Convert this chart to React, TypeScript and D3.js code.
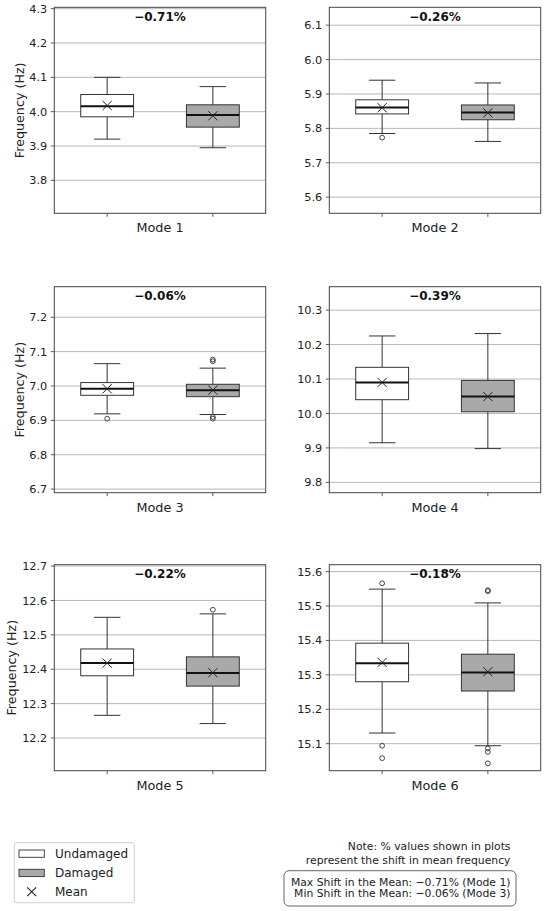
import React from "react";
import * as d3 from "d3";

const modes = ["Mode 1", "Mode 2", "Mode 3", "Mode 4", "Mode 5", "Mode 6"];
const shiftLabels = ["−0.71%", "−0.26%", "−0.06%", "−0.39%", "−0.22%", "−0.18%"];
const yMin = [3.704, 5.553, 6.6895, 9.77, 12.105, 15.0215];
const yMax = [4.304, 6.152, 7.289, 10.368, 12.704, 15.62];

const undLow = [3.92, 5.785, 6.919, 9.915, 12.266, 15.131];
const undQ1 = [3.985, 5.842, 6.973, 10.04, 12.381, 15.28];
const undMed = [4.016, 5.861, 6.992, 10.09, 12.418, 15.334];
const undQ3 = [4.05, 5.883, 7.01, 10.134, 12.459, 15.392];
const undHigh = [4.1, 5.94, 7.065, 10.225, 12.551, 15.549];
const undMean = [4.018, 5.86, 6.992, 10.09, 12.418, 15.336];
const undOutliers = [[], [5.773], [6.905], [], [], [15.566, 15.094, 15.058]];

const dmgLow = [3.895, 5.762, 6.917, 9.898, 12.242, 15.094];
const dmgQ1 = [3.955, 5.825, 6.969, 10.005, 12.351, 15.253];
const dmgMed = [3.99, 5.846, 6.988, 10.049, 12.389, 15.307];
const dmgQ3 = [4.02, 5.868, 7.005, 10.096, 12.436, 15.36];
const dmgHigh = [4.073, 5.932, 7.052, 10.232, 12.561, 15.509];
const dmgMean = [3.988, 5.845, 6.988, 10.049, 12.39, 15.309];
const dmgOutliers = [[], [], [7.077, 7.072, 6.91, 6.905], [], [12.573], [15.546, 15.543, 15.086, 15.076, 15.043]];

const groups = ["Undamaged", "Damaged"];
const groupFill = ["#ffffff", "#a9a9a9"];
const noteLines = ["Note: % values shown in plots", "represent the shift in mean frequency"];
const summaryLines = ["Max Shift in the Mean: −0.71% (Mode 1)", "Min Shift in the Mean: −0.06% (Mode 3)"];

const FONT = "DejaVu Sans, sans-serif";
const colLeft = [54.3, 329.3];
const rowTop = [7.3, 286.7, 564.7];
const plotW = 211.4;
const plotH = 206;
const EDGE = "#333";

function Panel({ i }: { i: number }) {
  const left = colLeft[i % 2];
  const top = rowTop[Math.floor(i / 2)];
  const y = d3.scaleLinear().domain([yMin[i], yMax[i]]).range([plotH, 0]);
  const x = d3.scaleLinear().domain([0.5, 2.5]).range([0, plotW]);
  const ticks = d3.range(Math.ceil(yMin[i] * 10 - 1e-6), Math.floor(yMax[i] * 10 + 1e-6) + 1).map((v) => v / 10);
  const boxW = x(1.5) - x(1);
  const stats = [
    { low: undLow[i], q1: undQ1[i], med: undMed[i], q3: undQ3[i], high: undHigh[i], mean: undMean[i], out: undOutliers[i] },
    { low: dmgLow[i], q1: dmgQ1[i], med: dmgMed[i], q3: dmgQ3[i], high: dmgHigh[i], mean: dmgMean[i], out: dmgOutliers[i] },
  ];
  return (
    <g transform={`translate(${left},${top})`}>
      {ticks.map((t) => (
        <g key={t}>
          <line x1={0} x2={plotW} y1={y(t)} y2={y(t)} stroke="#b0b0b0" strokeWidth={0.9} />
          <line x1={-3.5} x2={0} y1={y(t)} y2={y(t)} stroke="#333" strokeWidth={0.8} />
          <text x={-7} y={y(t)} dy="0.36em" textAnchor="end" fontSize={11.3} fill="#222" fontFamily={FONT}>
            {t.toFixed(1)}
          </text>
        </g>
      ))}
      {stats.map((s, k) => {
        const cx = x(k + 1);
        const capW = boxW * 0.5;
        const m = 4.6;
        return (
          <g key={k}>
            <line x1={cx} x2={cx} y1={y(s.q3)} y2={y(s.high)} stroke={EDGE} strokeWidth={1} />
            <line x1={cx} x2={cx} y1={y(s.q1)} y2={y(s.low)} stroke={EDGE} strokeWidth={1} />
            <line x1={cx - capW / 2} x2={cx + capW / 2} y1={y(s.high)} y2={y(s.high)} stroke={EDGE} strokeWidth={1} />
            <line x1={cx - capW / 2} x2={cx + capW / 2} y1={y(s.low)} y2={y(s.low)} stroke={EDGE} strokeWidth={1} />
            <rect x={cx - boxW / 2} y={y(s.q3)} width={boxW} height={y(s.q1) - y(s.q3)} fill={groupFill[k]} stroke={EDGE} strokeWidth={1} />
            <line x1={cx - boxW / 2} x2={cx + boxW / 2} y1={y(s.med)} y2={y(s.med)} stroke="#111" strokeWidth={2} />
            {s.out.map((o, j) => (
              <circle key={j} cx={cx} cy={y(o)} r={2.4} fill="none" stroke={EDGE} strokeWidth={0.9} />
            ))}
            <path d={`M${cx - m},${y(s.mean) - m}L${cx + m},${y(s.mean) + m}M${cx - m},${y(s.mean) + m}L${cx + m},${y(s.mean) - m}`} stroke="#222" strokeWidth={1} fill="none" />
            <line x1={cx} x2={cx} y1={plotH} y2={plotH + 3.5} stroke="#333" strokeWidth={0.8} />
          </g>
        );
      })}
      <rect x={0} y={0} width={plotW} height={plotH} fill="none" stroke="#444" strokeWidth={1} />
      <text x={plotW / 2} y={13.4} textAnchor="middle" fontWeight="bold" fontSize={12} fill="#111" fontFamily={FONT}>
        {shiftLabels[i]}
      </text>
      <text x={plotW / 2} y={plotH + 14.4} dy="0.36em" textAnchor="middle" fontSize={12.8} fill="#222" fontFamily={FONT}>
        {modes[i]}
      </text>
      {i % 2 === 0 && (
        <text
          transform={`translate(${i === 4 ? -42.6 : -35.3},${plotH / 2}) rotate(-90)`}
          textAnchor="middle"
          dy="0.36em"
          fontSize={12.7}
          fill="#222"
          fontFamily={FONT}
        >
          Frequency (Hz)
        </text>
      )}
    </g>
  );
}

export default function App() {
  return (
    <svg width={550} height={911} style={{ position: "absolute", left: 0, top: 0, background: "#fff" }}>
      <rect width={550} height={911} fill="#fff" />
      {modes.map((_, i) => (
        <Panel key={i} i={i} />
      ))}
      {/* legend */}
      <rect x={14.3} y={842.7} width={120} height={60} rx={2} fill="#fff" stroke="#d0d0d0" strokeWidth={1} />
      {groups.map((g, k) => (
        <g key={g}>
          <rect x={19} y={850 + k * 19.3} width={25.3} height={7.3} fill={groupFill[k]} stroke={EDGE} strokeWidth={0.9} />
          <text x={55} y={853.6 + k * 19.3} dy="0.36em" fontSize={12} fill="#222" fontFamily={FONT}>
            {g}
          </text>
        </g>
      ))}
      <path d="M27.3,887.3L36.1,896.1M27.3,896.1L36.1,887.3" stroke="#222" strokeWidth={1.1} />
      <text x={55} y={891.9} dy="0.36em" fontSize={12} fill="#222" fontFamily={FONT}>
        Mean
      </text>
      {noteLines.map((l, k) => (
        <text key={l} x={510.5} y={846 + k * 13.7} dy="0.36em" textAnchor="end" fontSize={10.8} fill="#222" fontFamily={FONT}>
          {l}
        </text>
      ))}
      <rect x={284} y={870.7} width={232} height={35.3} rx={5} fill="#fff" stroke="#555" strokeWidth={0.9} />
      {summaryLines.map((l, k) => (
        <text key={l} x={510.5} y={882 + k * 11.3} dy="0.36em" textAnchor="end" fontSize={10.8} fill="#222" fontFamily={FONT}>
          {l}
        </text>
      ))}
    </svg>
  );
}
